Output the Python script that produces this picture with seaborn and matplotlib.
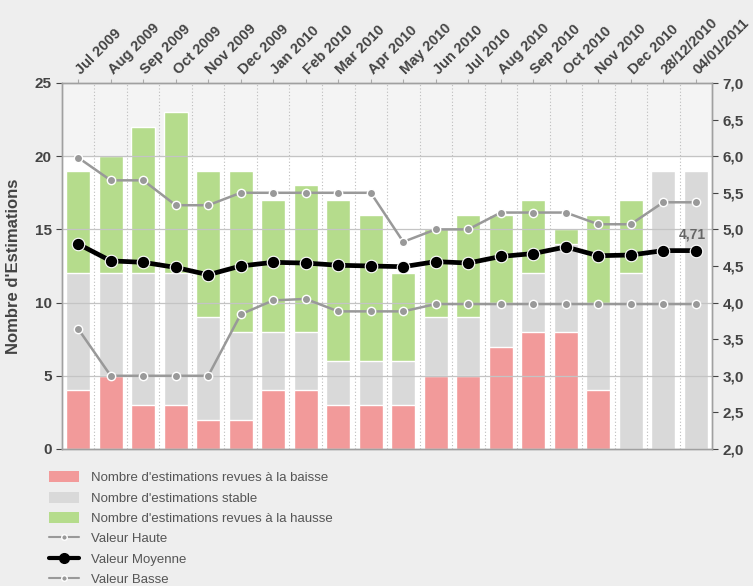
import numpy as np
import pandas as pd
import matplotlib
matplotlib.use('Agg')
import matplotlib.pyplot as plt
from matplotlib.patches import Patch
from matplotlib.lines import Line2D
from matplotlib.ticker import FuncFormatter
import seaborn as sns

# ── Data ────────────────────────────────────────────────────────────────
categories = ['Jul 2009', 'Aug 2009', 'Sep 2009', 'Oct 2009', 'Nov 2009', 'Dec 2009',
              'Jan 2010', 'Feb 2010', 'Mar 2010', 'Apr 2010', 'May 2010', 'Jun 2010',
              'Jul 2010', 'Aug 2010', 'Sep 2010', 'Oct 2010', 'Nov 2010', 'Dec 2010',
              '28/12/2010', '04/01/2011']
baisse = [4, 5, 3, 3, 2, 2, 4, 4, 3, 3, 3, 5, 5, 7, 8, 8, 4, 0, 0, 0]
stable = [8, 7, 9, 9, 7, 6, 4, 4, 3, 3, 3, 4, 4, 3, 4, 6, 6, 12, 19, 19]
hausse = [7, 8, 10, 11, 10, 11, 9, 10, 11, 10, 6, 6, 7, 6, 5, 1, 6, 5, 0, 0]
haute = [5.98, 5.67, 5.67, 5.33, 5.33, 5.50, 5.50, 5.50, 5.50, 5.50, 4.83, 5.00,
         5.00, 5.23, 5.23, 5.23, 5.07, 5.07, 5.37, 5.37]
moyenne = [4.80, 4.57, 4.55, 4.48, 4.38, 4.50, 4.55, 4.54, 4.51, 4.50, 4.49, 4.56,
           4.54, 4.63, 4.67, 4.76, 4.64, 4.65, 4.71, 4.71]
basse = [3.64, 3.00, 3.00, 3.00, 3.00, 3.84, 4.03, 4.05, 3.88, 3.88, 3.88, 3.98,
         3.98, 3.98, 3.98, 3.98, 3.98, 3.98, 3.98, 3.98]
left_ticks = [0, 5, 10, 15, 20, 25]
right_ticks = [2.0, 2.5, 3.0, 3.5, 4.0, 4.5, 5.0, 5.5, 6.0, 6.5, 7.0]

# ── Styling ─────────────────────────────────────────────────────────────
COL = {
    'red':   '#f29a9a',
    'grey':  '#d9d9d9',
    'green': '#b5dc8c',
    'line':  '#999999',
    'text':  '#444444',
    'bg':    '#eeeeee',
}

sns.set_style('white')
plt.rcParams['font.family'] = ['Liberation Sans', 'DejaVu Sans']

df = pd.DataFrame({'cat': categories, 'baisse': baisse,
                   'stable': stable, 'hausse': hausse})
df['low_mid'] = df['baisse'] + df['stable']
df['total'] = df['low_mid'] + df['hausse']
n = len(categories)
xpos = np.arange(n)

fig = plt.figure(figsize=(7.53, 5.86), dpi=100, facecolor=COL['bg'])
ax = fig.add_axes([0.0823, 0.2338, 0.8633, 0.6246])
ax.set_facecolor('white')

# light band at top
ax.axhspan(20, 25, color='#f4f4f4', zorder=0)

# stacked bars drawn back-to-front as cumulative totals
sns.barplot(data=df, x='cat', y='total', color=COL['green'], saturation=1,
            width=0.74, ax=ax, zorder=2)
sns.barplot(data=df, x='cat', y='low_mid', color=COL['grey'], saturation=1,
            width=0.74, ax=ax, zorder=2)
sns.barplot(data=df, x='cat', y='baisse', color=COL['red'], saturation=1,
            width=0.74, ax=ax, zorder=2)

for y in [5, 10, 15, 20]:
    ax.axhline(y, color='#c4c4c4', lw=0.9, zorder=3)
for xb in np.arange(n - 1) + 0.5:
    ax.axvline(xb, color='#bdbdbd', lw=0.8, ls=(0, (1, 2)), zorder=1)

ax.set_xlim(-0.5, n - 0.5)
ax.set_ylim(0, 25)
ax.set_yticks(left_ticks)
ax.tick_params(axis='y', labelsize=11, colors=COL['text'], length=4, width=0.8,
               direction='out', left=True)
for lab in ax.get_yticklabels():
    lab.set_fontweight('bold')
ax.set_ylabel("Nombre d'Estimations", fontsize=12, fontweight='bold',
              color=COL['text'], labelpad=10)
ax.set_xlabel('')

# category labels on top
ax.xaxis.tick_top()
ax.set_xticks(xpos)
ax.set_xticklabels(categories, rotation=45, ha='left', va='center',
                   rotation_mode='anchor', fontsize=10.5, fontweight='bold',
                   color=COL['text'])
ax.tick_params(axis='x', top=True, length=3, pad=5, colors='#aaaaaa',
               labelcolor=COL['text'])

for s in ax.spines.values():
    s.set_color('#a0a0a0')
    s.set_linewidth(1.0)

# lines on secondary axis
ax2 = ax.twinx()
ax2.set_ylim(2.0, 7.0)
sns.lineplot(x=xpos, y=haute, ax=ax2, color=COL['line'], lw=1.8, marker='o',
             markersize=6, markeredgecolor='white', markeredgewidth=1.0, zorder=4)
sns.lineplot(x=xpos, y=basse, ax=ax2, color=COL['line'], lw=1.8, marker='o',
             markersize=6, markeredgecolor='white', markeredgewidth=1.0, zorder=4)
sns.lineplot(x=xpos, y=moyenne, ax=ax2, color='black', lw=3.4, marker='o',
             markersize=9, markeredgecolor='white', markeredgewidth=0.8, zorder=5)
ax2.text(n - 1.1, moyenne[-1] + 0.12, f"{moyenne[-1]:.2f}".replace('.', ','),
         fontsize=10, fontweight='bold', color='#666666', ha='center', va='bottom')

ax2.set_yticks(right_ticks)
ax2.yaxis.set_major_formatter(FuncFormatter(lambda v, p: f"{v:.1f}".replace('.', ',')))
ax2.tick_params(axis='y', labelsize=11, colors=COL['text'], length=4, width=0.8,
                direction='out', right=True)
for lab in ax2.get_yticklabels():
    lab.set_fontweight('bold')
ax2.set_xlim(-0.5, n - 0.5)
for s in ax2.spines.values():
    s.set_color('#a0a0a0')
    s.set_linewidth(1.0)

# legend below
handles = [
    Patch(facecolor=COL['red'], edgecolor='none'),
    Patch(facecolor=COL['grey'], edgecolor='none'),
    Patch(facecolor=COL['green'], edgecolor='none'),
    Line2D([], [], color=COL['line'], lw=1.5, marker='o', markersize=4,
           markeredgecolor='white'),
    Line2D([], [], color='black', lw=3, marker='o', markersize=7,
           markeredgecolor='black'),
    Line2D([], [], color=COL['line'], lw=1.5, marker='o', markersize=4,
           markeredgecolor='white'),
]
labels = ["Nombre d'estimations revues à la baisse",
          "Nombre d'estimations stable",
          "Nombre d'estimations revues à la hausse",
          'Valeur Haute', 'Valeur Moyenne', 'Valeur Basse']
leg = fig.legend(handles, labels, loc='upper left', bbox_to_anchor=(0.058, 0.205),
                 frameon=False, fontsize=9.5, handlelength=2.3, handleheight=0.9,
                 labelspacing=0.56, handletextpad=0.9, borderaxespad=0)
for t in leg.get_texts():
    t.set_color('#555555')

fig.savefig('out.png', dpi=100, facecolor=fig.get_facecolor())
